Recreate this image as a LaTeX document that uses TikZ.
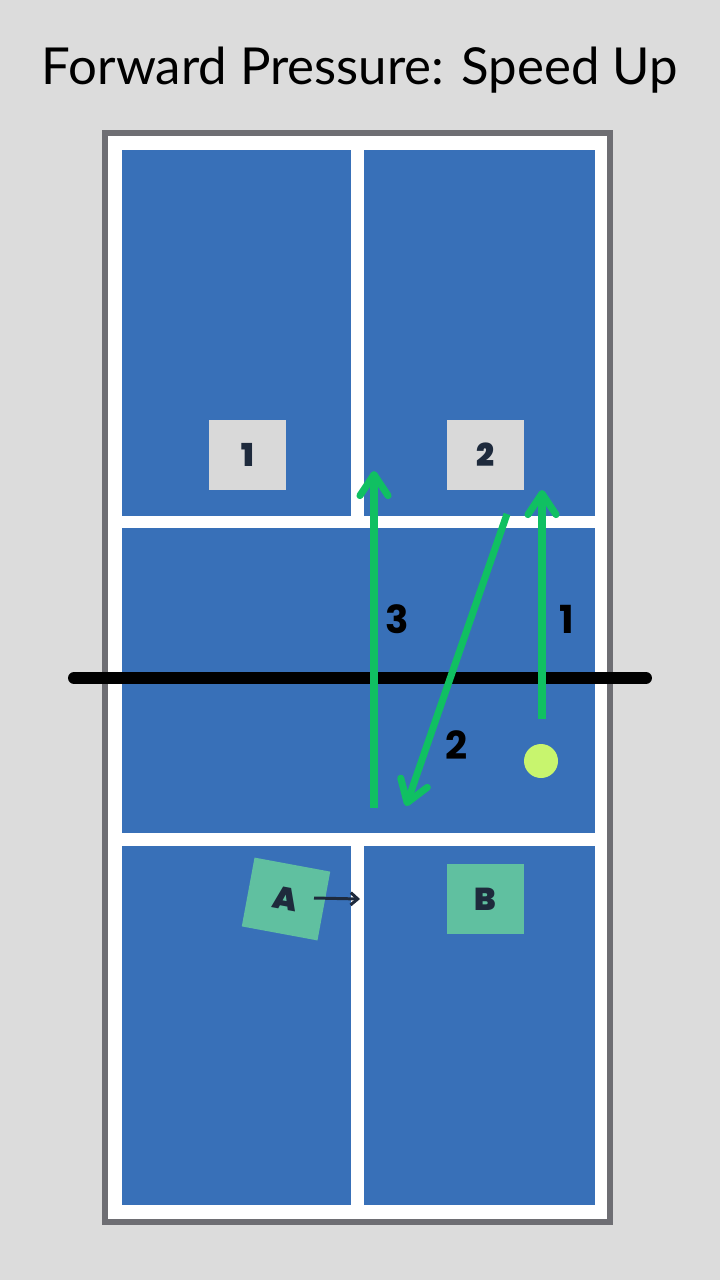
\documentclass[tikz,border=0pt]{standalone}
\usepackage{fontspec}
\setmainfont{Lato}
\IfFontExistsTF{Poppins Black}{\newfontfamily\heavyfont{Poppins Black}}{\newfontfamily\heavyfont{Poppins}[UprightFont=* Bold]}
\newfontfamily\labelfont{Poppins}
\usetikzlibrary{arrows.meta, positioning}
\definecolor{bggray}{RGB}{220, 220, 220}
\definecolor{courtblue}{RGB}{56, 112, 184}
\definecolor{bordergray}{RGB}{110, 110, 115}
\definecolor{shotgreen}{RGB}{16, 192, 98}
\definecolor{ballyellow}{RGB}{200, 245, 110}
\definecolor{boxgray}{RGB}{217, 217, 217}
\definecolor{playerteal}{RGB}{96, 192, 160}
\definecolor{navy}{RGB}{30, 42, 60}
\tikzstyle{court} = [fill=courtblue, draw=none]
\tikzstyle{opponent} = [rectangle, minimum width=1.54cm, minimum height=1.4cm, inner sep=0pt, fill=boxgray, text=navy, font=\heavyfont\fontsize{18}{18}\selectfont]
\tikzstyle{partner} = [opponent, fill=playerteal]
\tikzstyle{shot} = [line width=4pt, draw=shotgreen, -{Straight Barb[length=12pt, width=16pt, round]}]
\tikzstyle{shotlabel} = [font=\labelfont\bfseries\fontsize{22}{22}\selectfont, text=black]
\tikzstyle{move} = [line width=1.7pt, draw=navy, -{Straight Barb[length=4pt, width=7pt]}]

\begin{document}
\begin{tikzpicture}[x=0.02cm, y=-0.02cm]

% Background
\fill[bggray] (0,0) rectangle (720,1280);
\useasboundingbox (0,0) rectangle (720,1280);

% Title
\node (title) at (360,70) {\fontsize{29}{32}\selectfont Forward Pressure: Speed Up};

% Court outline and lines
\draw[bordergray, fill=white, line width=3.4pt] (105,133) rectangle (610,1222);
\fill[court] (122,150) rectangle (351,516);
\fill[court] (364,150) rectangle (595,516);
\fill[court] (122,528) rectangle (595,833);
\fill[court] (122,846) rectangle (351,1205);
\fill[court] (364,846) rectangle (595,1205);

% Net
\draw[black, line width=6.8pt, line cap=round] (74,678) -- (646,678);

% Players
\node (opp1) [opponent] at (247.5,455) {1};
\node (opp2) [opponent] at (485.5,455) {2};
\node (playerB) [partner] at (485.5,899) {B};
\node (playerA) [partner, rotate=-10.5] at (286,899) {A};

% Ball
\node (ball) [circle, fill=ballyellow, minimum size=0.68cm, inner sep=0pt] at (541,761) {};

% Shot path points
\coordinate (s1start) at (542,719);
\coordinate (s1end) at (542,490);
\coordinate (s2start) at (507,514);
\coordinate (s2end) at (406,806);
\coordinate (s3start) at (374,808);
\coordinate (s3end) at (374,471);
\coordinate (moveend) at (360,899);

% Shots
\draw [shot] (s1start) -- (s1end);
\draw [shot] (s2start) -- (s2end);
\draw [shot] (s3start) -- (s3end);

\node (label1) [shotlabel] at (567,619) {1};
\node (label2) [shotlabel] at (457,745) {2};
\node (label3) [shotlabel] at (397,619) {3};

% Player movement
\draw [move] (314,898) -- (moveend);

\end{tikzpicture}
\end{document}
